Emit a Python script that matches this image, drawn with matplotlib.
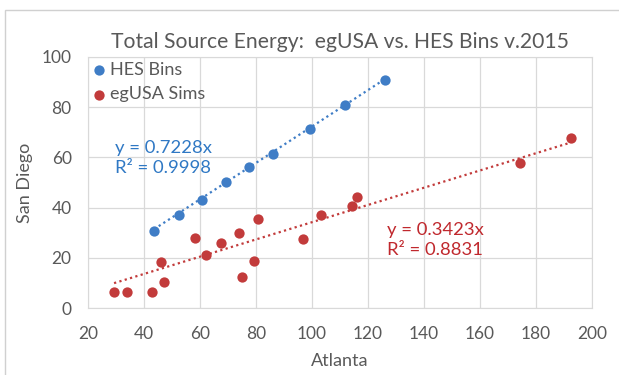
import matplotlib
matplotlib.use("Agg")
import matplotlib.pyplot as plt
import numpy as np
from matplotlib.patches import Rectangle

plt.rcParams["font.family"] = ["Lato", "DejaVu Sans"]

# HES bins (Atlanta vs San Diego)
hes_atl = [43.5, 52.4, 60.6, 69.4, 77.6, 86.2, 99.3, 111.8, 126.0]
hes_sd = [30.6, 36.9, 42.9, 50.0, 56.0, 61.5, 71.4, 81.0, 90.9]
hes_slope = 0.7228
hes_r2 = 0.9998

# egUSA simulations
sim_atl = [29.2, 33.9, 42.8, 46.0, 47.0, 58.1, 62.0, 67.3, 73.7, 75.1,
           79.4, 80.5, 96.8, 103.2, 114.3, 116.1, 174.4, 192.5]
sim_sd = [6.3, 6.3, 6.3, 18.3, 10.3, 27.8, 21.0, 25.8, 29.8, 12.3,
          18.7, 35.3, 27.4, 36.9, 40.5, 44.4, 57.9, 67.5]
sim_slope = 0.3423
sim_r2 = 0.8831

BLUE = "#3f7dc6"
RED = "#c23b3b"
BLUE_TXT = "#2f78c4"
RED_TXT = "#c0282d"
GREY = "#595959"
GRID = "#d9d9d9"

fig = plt.figure(figsize=(6.19, 3.75), dpi=100)
# chart-area border (runs off the right and bottom edges)
fig.patches.append(Rectangle((5 / 619, -0.1), 1.1, 1.1 - 10 / 375,
                             transform=fig.transFigure, fill=False,
                             edgecolor="#d0d0d0", linewidth=1.0))
ax = fig.add_axes([0.1427, 0.1779, 0.956 - 0.1427, 0.8488 - 0.1779])

# trendlines through the origin, spanning each series' x range
for xs, slope, col in [(hes_atl, hes_slope, BLUE), (sim_atl, sim_slope, RED)]:
    xx = np.array([min(xs), max(xs)])
    ax.plot(xx, slope * xx, linestyle=(0, (1, 1.5)), color=col, linewidth=1.6, zorder=2)

ax.scatter(hes_atl, hes_sd, s=55, color=BLUE, label="HES Bins", zorder=3, linewidths=0)
ax.scatter(sim_atl, sim_sd, s=55, color=RED, label="egUSA Sims", zorder=3, linewidths=0)

ax.text(29.5, 59.6, f"y = {hes_slope}x\nR² = {hes_r2}", color=BLUE_TXT, fontsize=13.3,
        linespacing=1.3, va="center", ha="left")
ax.text(126.8, 27.3, f"y = {sim_slope}x\nR² = {sim_r2}", color=RED_TXT, fontsize=13.3,
        linespacing=1.3, va="center", ha="left")

ax.set_xlim(20, 200)
ax.set_ylim(0, 100)
ax.set_xticks(range(20, 201, 20))
ax.set_yticks(range(0, 101, 20))
ax.grid(True, color=GRID, linewidth=0.9)
ax.set_axisbelow(True)
for sp in ax.spines.values():
    sp.set_color(GRID)
ax.tick_params(length=0, colors=GREY, labelsize=12.5)
ax.tick_params(axis="x", pad=13)
ax.tick_params(axis="y", pad=12)

ax.set_xlabel("Atlanta", color=GREY, fontsize=13, labelpad=8)
ax.set_ylabel("San Diego", color=GREY, fontsize=13, labelpad=6)
ax.set_title("Total Source Energy:  egUSA vs. HES Bins v.2015", color=GREY,
             fontsize=15.2, pad=6)

leg = ax.legend(loc="upper left", frameon=False, fontsize=13, handletextpad=0.3,
                borderaxespad=0.2, labelspacing=0.45, markerscale=1.0,
                handlelength=0.6, borderpad=0.1)
for t in leg.get_texts():
    t.set_color(GREY)

fig.savefig("out.png", dpi=100)
